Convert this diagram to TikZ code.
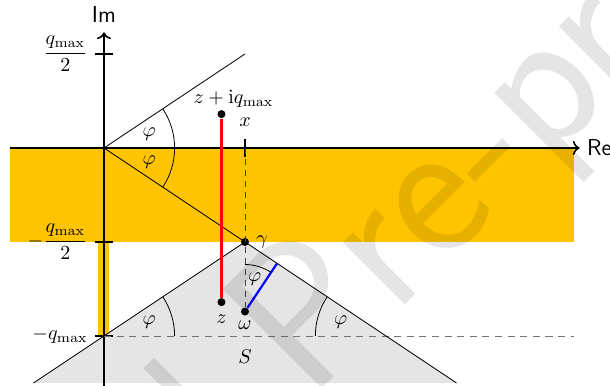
\documentclass[tikz,border=0pt]{standalone}
\usepackage{amsmath,amssymb}
\usetikzlibrary{arrows.meta,angles,quotes,calc}
\definecolor{bandorange}{RGB}{255,196,0}
\tikzset{
  dot/.style={circle, fill, inner sep=0pt, minimum size=4pt},
  axistick/.style={thick},
  ang/.style={draw, thin, angle radius=1.24cm, angle eccentricity=0.67},
  seg/.style={line width=1.1pt},
}

\begin{document}
\begin{tikzpicture}[>=To, x=1.65cm, y=1.65cm]
    \useasboundingbox (-1.106,-2.532) rectangle (5.383,1.574);

    % 基本点
    \coordinate (O) at (0,0);
    \coordinate (A) at (1.5,1);
    \coordinate (X) at (1.5,0);
    \coordinate (R) at (1,0);
    \coordinate (G) at (1.5,-1);
    \coordinate (L) at (0,-2);
    \coordinate (M) at (3,-2);
    \coordinate (D) at (5,-2);
    \coordinate (BL) at (-0.75,-2.5);
    \coordinate (BR) at (3.75,-2.5);
    \coordinate (W) at (1.5,-1.74);
    \coordinate (F) at ($(G)!(W)!(BR)$);

    % 橙色带
    \fill[bandorange] (-1,0) rectangle (5,-1);
    \fill[bandorange] (-0.06,-1) rectangle (0.05,-2);
    % 区域 S
    \fill[gray!20] (G) -- (BR) -- (BL) -- cycle;
    \node (S) at (1.5,-2.22) {$S$};

    % 坐标轴
    \draw[thick, ->] (-1,0) -- (5.06,0)
        node[right, font=\sffamily\fontsize{11.5}{13}\selectfont] (re) {Re};
    \draw[thick, ->] (0,-2.532) -- (0,1.23)
        node[above=1pt, font=\sffamily\fontsize{11.5}{13}\selectfont] (im) {Im};
    \foreach \y in {1,-1,-2}
        \draw[axistick] (-0.1,\y) -- (0.1,\y);
    \draw[axistick] (1.5,-0.1) -- (1.5,0.1);
    \node[left] (lq1) at (-0.1,1) {$\dfrac{q_{\max}}{2}$};
    \node[left] (lq2) at (-0.1,-1) {$-\dfrac{q_{\max}}{2}$};
    \node[left] (lq3) at (-0.1,-2) {$-q_{\max}$};
    \node[above] (lx) at (1.5,0.15) {$x$};

    % 虚线
    \draw[black!55, dash pattern=on 3.5pt off 2.8pt] (L) -- (D);

    % 射线与 S 的边界
    \draw[thin] (O) -- (A);
    \draw[thin] (O) -- (G);
    \draw[thin] (BL) -- (G) -- (BR);

    % 点
    \node[dot] (gam) at (G) {};
    \node[right] (lgam) at (gam.east) {$\gamma$};
    \node[dot] (zpt) at (1.25,-1.64) {};
    \node[below=3pt] (lzpt) at (zpt.center) {$z$};
    \node[dot] (zup) at (1.25,0.36) {};
    \node[above, xshift=6pt] (lzup) at (zup.center) {$z+\mathrm{i}q_{\max}$};
    \node[dot] (om) at (W) {};
    \node[below=1pt] (lom) at (om.center) {$\omega$};

    \draw[black!75, dash pattern=on 3pt off 2.5pt] (X) -- (om);
    \draw[seg, red] (zpt) -- (zup);
    \draw[seg, blue] (om) -- (F);

    % 角 phi
    \pic[ang, "$\varphi$"] {angle = R--O--A};
    \pic[ang, "$\varphi$"] {angle = G--O--R};
    \pic[ang, "$\varphi$"] {angle = D--L--G};
    \pic[ang, "$\varphi$"] {angle = G--M--L};
    \pic[ang, angle radius=0.825cm, angle eccentricity=0.72, "$\varphi$"] {angle = F--W--G};

    % 水印
    \node[rotate=45, anchor=base west, inner sep=0pt, opacity=0.1,
          font=\sffamily\fontsize{101}{101}\selectfont] (wm) at (2.18,-2.70)
        {\llap{Journal }Pre-proof};
\end{tikzpicture}
\end{document}
